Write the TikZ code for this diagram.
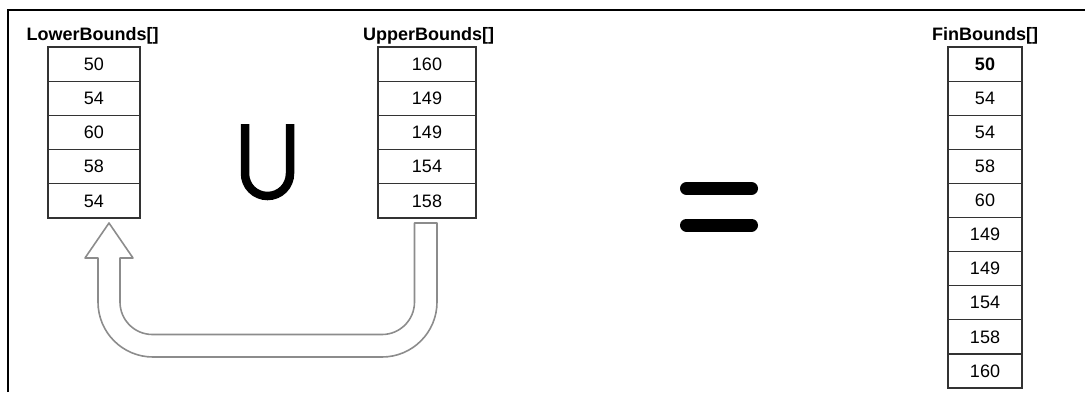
\documentclass[tikz,border=0pt]{standalone}
\usepackage{fontspec}
\setmainfont{Liberation Sans}
\definecolor{cellline}{HTML}{333333}
\definecolor{arrowgray}{HTML}{8C8C8C}
\begin{document}
\begin{tikzpicture}[x=1pt,y=-1pt,
  cell/.style={draw=cellline, line width=1.2pt, rectangle, inner sep=0pt, outer sep=0pt,
               font=\fontsize{18}{21}\selectfont},
  title/.style={inner sep=0pt, anchor=base, font=\fontsize{18}{21}\selectfont\bfseries},
  bigsym/.style={line width=8.5pt, black},
  bararrow/.style={draw=arrowgray, line width=1.6pt, line join=round}]
\useasboundingbox (0,0) rectangle (1085,392);

% frame on the left and top
\draw[line width=2pt] (8,392) -- (8,10) -- (1085,10);

% titles
\node[title] (tlo) at (92.5,40) {LowerBounds[]};
\node[title] (tup) at (428.5,40) {UpperBounds[]};
\node[title] (tfin) at (985,40) {FinBounds[]};

% arrays
\foreach \v [count=\i] in {50,54,60,58,54}
  \node[cell, minimum width=92pt, minimum height=34.2pt] (lo\i) at (94,{47+34.2*(\i-0.5)}) {\v};
\foreach \v [count=\i] in {160,149,149,154,158}
  \node[cell, minimum width=98pt, minimum height=34.2pt] (up\i) at (427,{47+34.2*(\i-0.5)}) {\v};
\foreach \v [count=\i] in {{\textbf{50}},54,54,58,60,149,149,154,158,160}
  \node[cell, minimum width=74pt, minimum height=34.1pt] (fin\i) at (985,{47+34.1*(\i-0.5)}) {\v};

% union sign
\draw[bigsym] (245,124) -- (245,173.5)
  .. controls (245,186) and (255,196) .. (267.5,196)
  .. controls (280,196) and (290,186) .. (290,173.5) -- (290,124);

% equals sign
\draw[line width=13pt, line cap=round] (686.5,188.5) -- (751.5,188.5);
\draw[line width=13pt, line cap=round] (686.5,225) -- (751.5,225);

% U-turn block arrow from the upper array back to the lower array
\draw[bararrow] (437,223) -- (437,302)
  .. controls (437,332.4) and (412.4,357) .. (382,357)
  -- (153,357)
  .. controls (122.6,357) and (98,332.4) .. (98,302)
  -- (98,258) -- (85,258) -- (109,223) -- (133,258) -- (120,258) -- (120,302)
  .. controls (120,320) and (134.5,334.5) .. (152.5,334.5)
  -- (382,334.5)
  .. controls (400,334.5) and (414.5,320) .. (414.5,302)
  -- (414.5,223) -- cycle;
\end{tikzpicture}
\end{document}
